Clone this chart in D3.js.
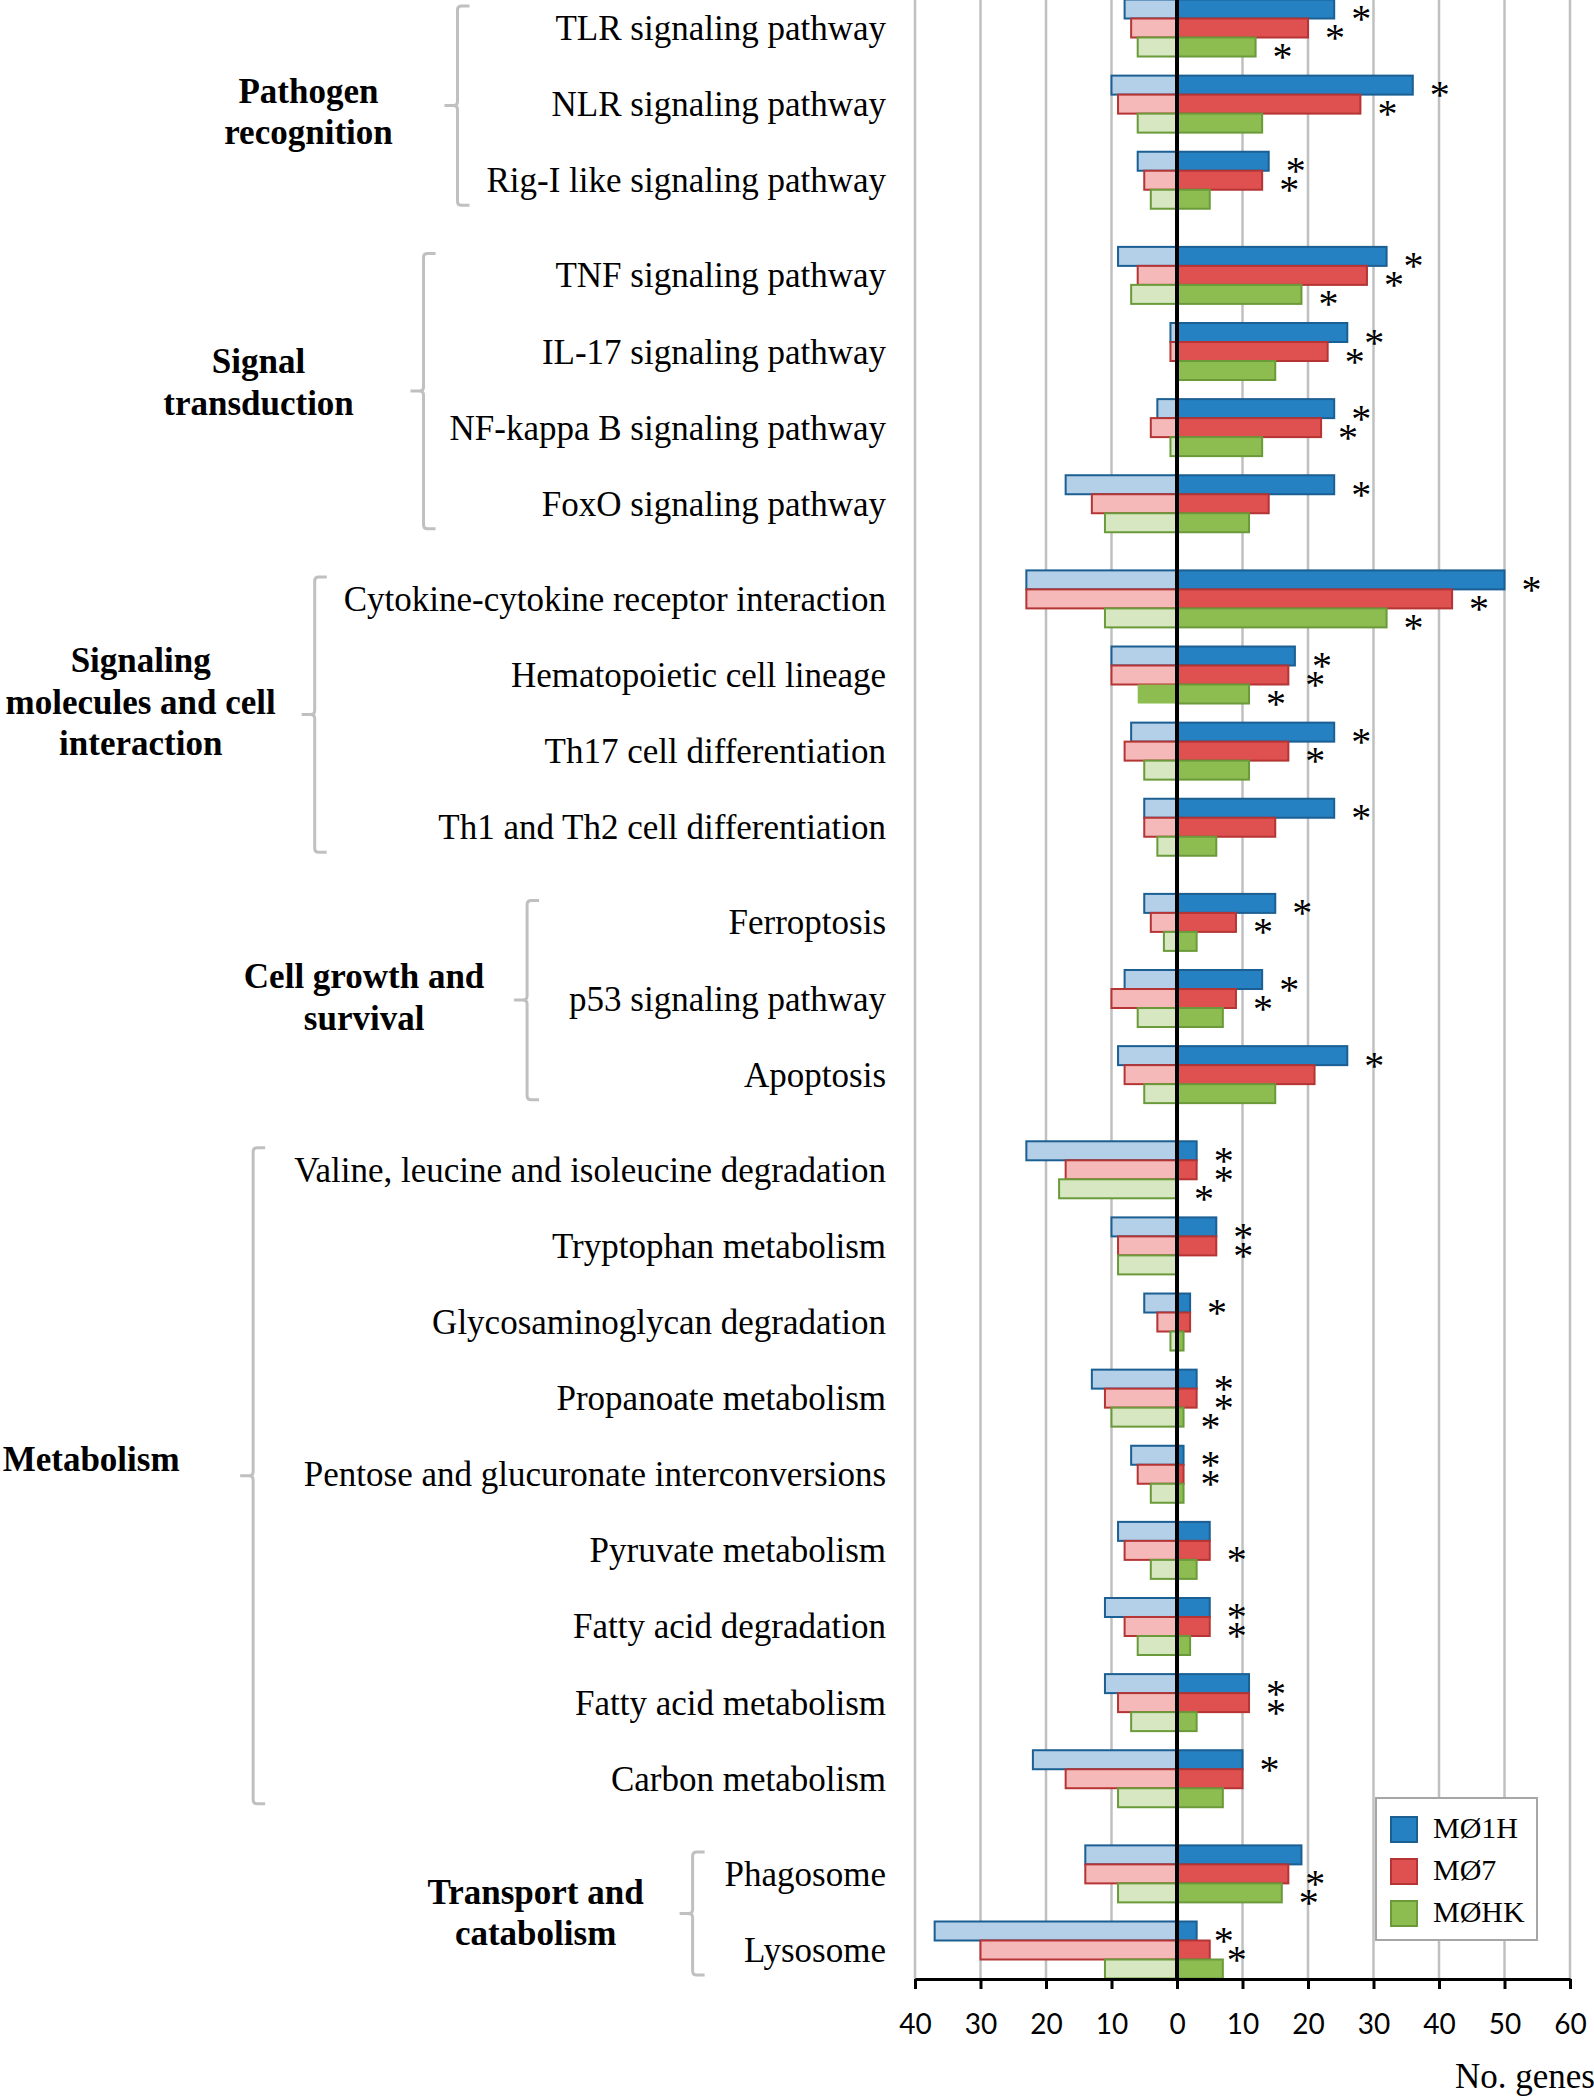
<!DOCTYPE html>
<html>
<head>
<meta charset="utf-8">
<script src="https://cdn.jsdelivr.net/npm/d3@7"></script>
<style>
  body { margin: 0; background: #fff; }
  svg { display: block; }
</style>
</head>
<body>
<div id="plot-container"></div>
<script>
// pathways, top to bottom
var categories = [
  "TLR signaling pathway", "NLR signaling pathway", "Rig-I like signaling pathway",
  "TNF signaling pathway", "IL-17 signaling pathway", "NF-kappa B signaling pathway", "FoxO signaling pathway",
  "Cytokine-cytokine receptor interaction", "Hematopoietic cell lineage", "Th17 cell differentiation", "Th1 and Th2 cell differentiation",
  "Ferroptosis", "p53 signaling pathway", "Apoptosis",
  "Valine, leucine and isoleucine degradation", "Tryptophan metabolism", "Glycosaminoglycan degradation",
  "Propanoate metabolism", "Pentose and glucuronate interconversions", "Pyruvate metabolism",
  "Fatty acid degradation", "Fatty acid metabolism", "Carbon metabolism",
  "Phagosome", "Lysosome"
]
var groupNames = [
  ["Pathogen", "recognition"], ["Signal", "transduction"],
  ["Signaling", "molecules and cell", "interaction"], ["Cell growth and", "survival"],
  ["Metabolism"], ["Transport and", "catabolism"]
]
var groupSizes = [3, 4, 4, 3, 9, 2]
var seriesNames = ["MØ1H", "MØ7", "MØHK"]

// up-regulated genes (right side)
var upM1H = [24, 36, 14, 32, 26, 24, 24, 50, 18, 24, 24, 15, 13, 26, 3, 6, 2, 3, 1, 5, 5, 11, 10, 19, 3]
var upM7  = [20, 28, 13, 29, 23, 22, 14, 42, 17, 17, 15, 9, 9, 21, 3, 6, 2, 3, 1, 5, 5, 11, 10, 17, 5]
var upMHK = [12, 13, 5, 19, 15, 13, 11, 32, 11, 11, 6, 3, 7, 15, 0, 0, 1, 1, 1, 3, 2, 3, 7, 16, 7]
// down-regulated genes (left side)
var downM1H = [-8, -10, -6, -9, -1, -3, -17, -23, -10, -7, -5, -5, -8, -9, -23, -10, -5, -13, -7, -9, -11, -11, -22, -14, -37]
var downM7  = [-7, -9, -5, -6, -1, -4, -13, -23, -10, -8, -5, -4, -10, -8, -17, -9, -3, -11, -6, -8, -8, -9, -17, -14, -30]
var downMHK = [-6, -6, -4, -7, 0, -1, -11, -11, -6, -5, -3, -2, -6, -5, -18, -9, -1, -10, -4, -4, -6, -7, -9, -9, -11]
// significant enrichment (*)
var sigM1H = [1, 1, 1, 1, 1, 1, 1, 1, 1, 1, 1, 1, 1, 1, 1, 1, 1, 1, 1, 0, 1, 1, 1, 0, 1]
var sigM7  = [1, 1, 1, 1, 1, 1, 0, 1, 1, 1, 0, 1, 1, 0, 1, 1, 0, 1, 1, 1, 1, 1, 0, 1, 1]
var sigMHK = [1, 0, 0, 1, 0, 0, 0, 1, 1, 0, 0, 0, 0, 0, 1, 0, 0, 1, 0, 0, 0, 0, 0, 1, 0]
// down bar drawn in full colour in the original
var solidDownMHK = ["Hematopoietic cell lineage"]

var xTicks = [-40, -30, -20, -10, 0, 10, 20, 30, 40, 50, 60]

// layout of the group column (px), one entry per group
var bracketGap = [29, 26, 29, 42, 41, 32]
var groupLabelOffset = [149, 165, 174, 163, 162, 157]
var groupLabelDy = [0, -15, -19, -9, -23, -7]

var ups = [upM1H, upM7, upMHK]
var downs = [downM1H, downM7, downMHK]
var sigs = [sigM1H, sigM7, sigMHK]

var fills = ["#2681c3", "#df5050", "#8dbd50"]
var strokes = ["#1b5f93", "#b53434", "#6b9a3a"]
var lightFills = ["#b4cfe8", "#f6b9b9", "#d6e7c1"]

var serif = "'Liberation Serif', 'Times New Roman', serif"

var W = 1594, H = 2098
var axisY = 1979
var labelRight = 886
var barH = 19

var svg = d3.select("#plot-container").append("svg")
  .attr("width", W).attr("height", H)

var x = d3.scaleLinear().domain([-40, 60]).range([915, 1570])

// rows: a quarter slot extra between groups
var groupOf = []
groupSizes.forEach(function (n, g) { for (var i = 0; i < n; i++) groupOf.push(g) })
var slot = categories.map(function (c, i) { return i + groupOf[i] * 0.25 })
var y = d3.scaleLinear().domain([0, d3.max(slot)]).range([28, 1950])

// grid
svg.append("g").selectAll("line").data(xTicks.filter(function (d) { return d !== 0 }))
  .enter().append("line")
  .attr("x1", function (d) { return x(d) }).attr("x2", function (d) { return x(d) })
  .attr("y1", 0).attr("y2", axisY)
  .attr("stroke", "#c0c0c0").attr("stroke-width", 2.5)

// bars
var bars = []
categories.forEach(function (c, i) {
  for (var s = 0; s < 3; s++) {
    var yc = y(slot[i]) + (s - 1) * barH
    bars.push({ cat: c, s: s, v: ups[s][i], yc: yc, up: true })
    bars.push({ cat: c, s: s, v: downs[s][i], yc: yc, up: false })
  }
})

svg.append("g").selectAll("rect").data(bars.filter(function (d) { return d.v !== 0 }))
  .enter().append("rect")
  .attr("x", function (d) { return x(Math.min(0, d.v)) })
  .attr("width", function (d) { return Math.abs(x(d.v) - x(0)) })
  .attr("y", function (d) { return d.yc - barH / 2 })
  .attr("height", barH)
  .attr("fill", function (d) {
    if (d.up) return fills[d.s]
    if (d.s === 2 && solidDownMHK.indexOf(d.cat) >= 0) return fills[d.s]
    return lightFills[d.s]
  })
  .attr("stroke", function (d) {
    if (!d.up && d.s === 2 && solidDownMHK.indexOf(d.cat) >= 0) return "none"
    return strokes[d.s]
  })
  .attr("stroke-width", 2)

// asterisks
svg.append("g").selectAll("text")
  .data(bars.filter(function (d) { return d.up && sigs[d.s][categories.indexOf(d.cat)] }))
  .enter().append("text")
  .attr("x", function (d) { return x(d.v) + 27 })
  .attr("y", function (d) { return d.yc + 3 + 20 })
  .attr("text-anchor", "middle")
  .attr("font-family", serif).attr("font-size", 40)
  .text("*")

// zero line
svg.append("line")
  .attr("x1", x(0)).attr("x2", x(0)).attr("y1", 0).attr("y2", axisY)
  .attr("stroke", "#000").attr("stroke-width", 4)

// x axis
var ax = svg.append("g")
  .attr("transform", "translate(0," + axisY + ")")
  .call(d3.axisBottom(x).tickValues(xTicks).tickSize(10).tickSizeOuter(0).tickPadding(25)
    .tickFormat(function (d) { return Math.abs(d) }))
ax.attr("font-family", "Lato, 'Open Sans', sans-serif").attr("font-size", 28)
ax.select(".domain").attr("stroke-width", 3)
ax.selectAll(".tick line").attr("stroke-width", 3)
ax.selectAll(".tick text").attr("fill", "#000")

svg.append("text")
  .attr("x", 1455).attr("y", 2088)
  .attr("font-family", serif).attr("font-size", 35)
  .text("No. genes")

// pathway labels
var labels = svg.append("g").selectAll("text").data(categories)
  .enter().append("text")
  .attr("x", labelRight)
  .attr("y", function (d, i) { return y(slot[i]) + 12 })
  .attr("text-anchor", "end")
  .attr("font-family", serif).attr("font-size", 35)
  .text(function (d) { return d })

var widths = []
labels.each(function () { widths.push(this.getComputedTextLength()) })

// group brackets and names
var start = 0
groupSizes.forEach(function (n, g) {
  var idx = d3.range(start, start + n)
  start += n
  var maxW = d3.max(idx, function (i) { return widths[i] })
  var bx = labelRight - maxW - bracketGap[g]
  var top = y(slot[idx[0]]) - 22
  var bottom = y(slot[idx[n - 1]]) + 25
  var mid = (top + bottom) / 2

  var p = d3.path()
  p.moveTo(bx + 12, top)
  p.lineTo(bx + 4, top)
  p.quadraticCurveTo(bx, top, bx, top + 4)
  p.lineTo(bx, mid - 4)
  p.quadraticCurveTo(bx, mid, bx - 4, mid)
  p.lineTo(bx - 13, mid)
  p.moveTo(bx - 4, mid)
  p.quadraticCurveTo(bx, mid, bx, mid + 4)
  p.lineTo(bx, bottom - 4)
  p.quadraticCurveTo(bx, bottom, bx + 4, bottom)
  p.lineTo(bx + 12, bottom)
  svg.append("path").attr("d", p.toString())
    .attr("fill", "none").attr("stroke", "#c0c0c0").attr("stroke-width", 3)

  var lines = groupNames[g]
  svg.append("g").selectAll("text").data(lines)
    .enter().append("text")
    .attr("x", bx - groupLabelOffset[g])
    .attr("y", function (d, k) { return mid + 18 + groupLabelDy[g] + (k - (lines.length - 1) / 2) * 41.5 })
    .attr("text-anchor", "middle")
    .attr("font-family", serif).attr("font-size", 35).attr("font-weight", "bold")
    .text(function (d) { return d })
})

// legend
var lg = svg.append("g")
lg.append("rect").attr("x", 1376).attr("y", 1798).attr("width", 161).attr("height", 142)
  .attr("fill", "#fff").attr("stroke", "#a6a6a6").attr("stroke-width", 2)
var li = lg.selectAll("g.item").data(seriesNames).enter().append("g").attr("class", "item")
  .attr("transform", function (d, i) { return "translate(0," + i * 42 + ")" })
li.append("rect").attr("x", 1391).attr("y", 1817).attr("width", 26).attr("height", 25)
  .attr("fill", function (d, i) { return fills[i] })
  .attr("stroke", function (d, i) { return strokes[i] }).attr("stroke-width", 2)
li.append("text").attr("x", 1433).attr("y", 1838)
  .attr("font-family", serif).attr("font-size", 30)
  .text(function (d) { return d })
</script>
</body>
</html>
